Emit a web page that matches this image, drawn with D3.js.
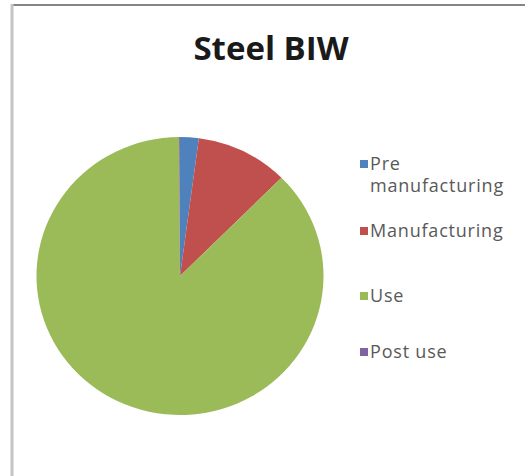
<!DOCTYPE html>
<html>
<head>
<meta charset="utf-8">
<script src="https://cdn.jsdelivr.net/npm/d3@7"></script>
<style>
  body { margin: 0; background: #fff; }
  svg { display: block; }
</style>
</head>
<body>
<div id="chart"></div>
<script>
var categories = ["Pre manufacturing", "Manufacturing", "Use", "Post use"];
var legendLines = [["Pre", "manufacturing"], ["Manufacturing"], ["Use"], ["Post use"]];
var values = [2.1, 10.4, 87.4, 0.1];
var colors = ["#4f81bd", "#c0504d", "#9bbb59", "#8064a2"];
var title = "Steel BIW";

var width = 525, height = 476;

var svg = d3.select("#chart")
    .append("svg")
    .attr("width", width)
    .attr("height", height);

// chart area frame (only top and left edges show in the crop)
svg.append("line")
    .attr("x1", 11).attr("x2", width)
    .attr("y1", 5).attr("y2", 5)
    .attr("stroke", "#858585")
    .attr("stroke-width", 2);
svg.append("line")
    .attr("x1", 12).attr("x2", 12)
    .attr("y1", 4).attr("y2", height)
    .attr("stroke", "#c4c4c4")
    .attr("stroke-width", 3);

svg.append("text")
    .attr("x", 271)
    .attr("y", 60)
    .attr("text-anchor", "middle")
    .attr("font-family", "'Open Sans', sans-serif")
    .attr("font-weight", "bold")
    .attr("font-size", 33)
    .attr("fill", "#1a1a1a")
    .text(title);

var data = categories.map(function (c, i) {
    return { name: c, lines: legendLines[i], value: values[i], color: colors[i] };
});

var pie = d3.pie()
    .sort(null)
    .value(function (d) { return d.value; });

var rx = 143.5, ry = 139;
var arc = d3.arc()
    .innerRadius(0)
    .outerRadius(rx);

var g = svg.append("g")
    .attr("transform", "translate(180,276) scale(1," + (ry / rx) + ")");

g.selectAll("path")
    .data(pie(data))
    .enter()
    .append("path")
    .attr("d", arc)
    .attr("fill", function (d) { return d.data.color; });

// legend rows (y of first line of each entry)
var rows = [164, 231, 296, 352];

var item = svg.append("g")
    .selectAll("g")
    .data(data)
    .enter()
    .append("g")
    .attr("transform", function (d, i) { return "translate(0," + rows[i] + ")"; });

item.append("rect")
    .attr("x", 360)
    .attr("y", -4)
    .attr("width", 8)
    .attr("height", 8)
    .attr("fill", function (d) { return d.color; });

item.append("text")
    .attr("y", 6)
    .attr("font-family", "'Open Sans', sans-serif")
    .attr("font-size", 18)
    .attr("letter-spacing", 0.8)
    .attr("fill", "#595959")
    .selectAll("tspan")
    .data(function (d) { return d.lines; })
    .enter()
    .append("tspan")
    .attr("x", 370)
    .attr("dy", function (d, i) { return i === 0 ? 0 : 22; })
    .text(function (d) { return d; });
</script>
</body>
</html>
